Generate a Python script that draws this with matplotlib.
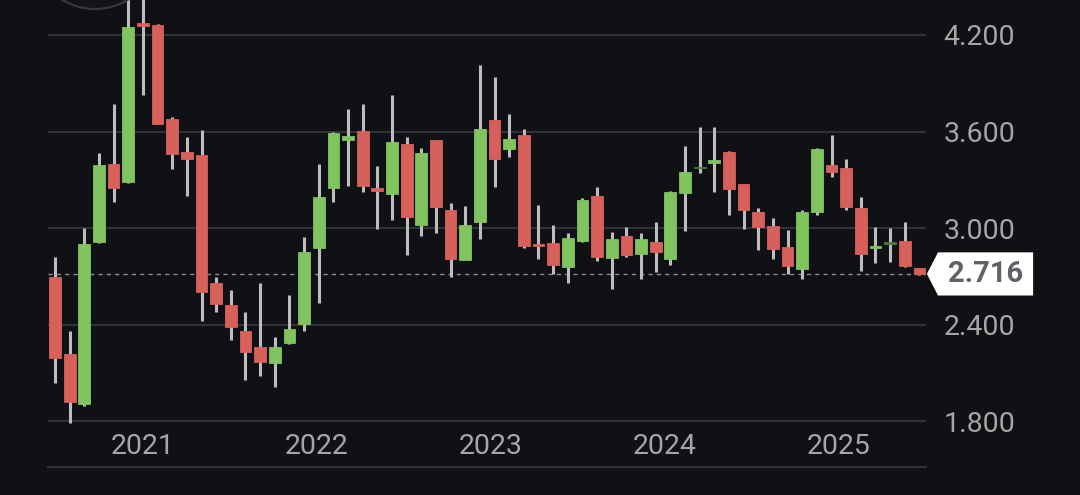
import numpy as np
import matplotlib
matplotlib.use('Agg')
import matplotlib.pyplot as plt
from matplotlib.patches import Polygon, Circle
from matplotlib.transforms import blended_transform_factory

# 月K資料 (2020/07 ~ 2025/06)
opens = [2.695, 2.22, 1.906, 2.914, 3.40, 3.289, 4.272, 4.26, 3.678, 3.473, 3.455, 2.662,
         2.523, 2.36, 2.264, 2.163, 2.285, 2.405, 2.875, 3.252, 3.545, 3.604, 3.252, 3.21,
         3.521, 3.02, 3.548, 3.111, 2.804, 3.04, 3.67, 3.49, 3.579, 2.90, 2.91, 2.761,
         2.92, 3.198, 2.817, 2.954, 2.84, 2.912, 2.807, 3.221, 3.372, 3.405, 3.473, 3.275,
         3.099, 3.014, 2.883, 2.745, 3.101, 3.393, 3.372, 3.127, 2.876, 2.904, 2.92, 2.751]
closes = [2.196, 1.92, 2.90, 3.395, 3.25, 4.248, 4.258, 3.65, 3.461, 3.428, 2.606, 2.527,
          2.388, 2.23, 2.167, 2.264, 2.372, 2.85, 3.194, 3.593, 3.57, 3.262, 3.232, 3.534,
          3.071, 3.465, 3.132, 2.811, 3.02, 3.614, 3.432, 3.554, 2.891, 2.89, 2.769, 2.937,
          3.175, 2.823, 2.933, 2.832, 2.933, 2.852, 3.227, 3.347, 3.372, 3.422, 3.245, 3.111,
          3.005, 2.873, 2.763, 3.099, 3.49, 3.351, 3.13, 2.842, 2.89, 2.904, 2.763, 2.716]
highs = [2.82, 2.36, 3.0, 3.465, 3.77, 4.5, 4.55, 4.265, 3.69, 3.565, 3.608, 2.70,
         2.616, 2.48, 2.658, 2.322, 2.587, 2.945, 3.397, 3.60, 3.74, 3.77, 3.386, 3.827,
         3.566, 3.496, 3.55, 3.155, 3.138, 4.014, 3.937, 3.709, 3.618, 3.142, 3.02, 2.972,
         3.19, 3.254, 2.978, 3.007, 2.972, 3.04, 3.23, 3.509, 3.627, 3.63, 3.48, 3.275,
         3.127, 3.061, 2.987, 3.111, 3.496, 3.577, 3.428, 3.192, 3.009, 3.0, 3.039, 2.751]
lows = [2.04, 1.79, 1.895, 2.905, 3.16, 3.28, 3.83, 3.645, 3.37, 3.20, 2.424, 2.48,
        2.306, 2.06, 2.084, 2.016, 2.279, 2.36, 2.533, 3.163, 3.26, 3.227, 2.997, 3.053,
        2.832, 2.952, 2.972, 2.70, 2.80, 2.933, 3.258, 3.44, 2.88, 2.811, 2.716, 2.658,
        2.915, 2.798, 2.624, 2.823, 2.686, 2.73, 2.773, 2.98, 3.341, 3.223, 3.08, 2.997,
        2.863, 2.809, 2.716, 2.686, 3.08, 3.32, 3.113, 2.736, 2.782, 2.792, 2.757, 2.709]
years = ['2021', '2022', '2023', '2024', '2025']
year_start = [6, 18, 30, 42, 54]   # 每年一月的K棒位置
y_ticks = [1.8, 2.4, 3.0, 3.6, 4.2]
last_price = 2.716

bg = '#0f1115'
up_c, down_c, flat_c = '#80c35f', '#d8605a', '#4d7a3e'
wick_c = '#bdbdbd'
grid_c = '#2f3237'
text_c = '#a6a6a6'

plt.rcParams['font.family'] = ['Roboto', 'DejaVu Sans']

fig = plt.figure(figsize=(10.8, 4.95), dpi=100, facecolor=bg)
ax = fig.add_axes([48/1080, 28.3/495, 878/1080, 466.7/495])
ax.set_facecolor(bg)

o = np.array(opens)
c = np.array(closes)
x = np.arange(len(o))

# 格線
for v in y_ticks:
    ax.axhline(v, color=grid_c, lw=1.5, zorder=0)
ax.axhline(last_price, color='#8c8c8c', lw=1, ls=(0, (3, 3)), zorder=1)

# 影線
ax.vlines(x, lows, highs, color=wick_c, lw=2.2, zorder=2)

# 實體
colors = np.where(c > o, up_c, np.where(c < o, down_c, flat_c))
height = np.maximum(np.abs(c - o), 0.008)
bottom = np.minimum(o, c)
ax.bar(x, height, bottom=bottom, width=0.8, color=colors, edgecolor=colors,
       lw=0.6, zorder=3)

ax.set_xlim(-0.48, 59.45)
ax.set_ylim(1.519, 4.417)
for s in ax.spines.values():
    s.set_visible(False)
ax.spines['bottom'].set_visible(True)
ax.spines['bottom'].set_color(grid_c)
ax.spines['bottom'].set_linewidth(1.5)

ax.yaxis.tick_right()
ax.set_yticks(y_ticks)
ax.set_yticklabels(['%.3f' % v for v in y_ticks])
ax.tick_params(axis='y', length=0, pad=12.5, labelsize=20.5, labelcolor=text_c)
ax.set_xticks([])

# 年份標籤 (放在 1.800 格線與底線之間)
tr = blended_transform_factory(ax.transData, ax.transAxes)
for k, (yr, i) in enumerate(zip(years, year_start)):
    ax.text(i - 0.12*k, 0.044, yr, transform=tr, ha='center', va='center',
            fontsize=20.5, color=text_c)

# 最新價格標籤
tr2 = blended_transform_factory(ax.transAxes, ax.transData)
h = 0.134
tag = Polygon([(1.001, last_price), (1.0137, last_price + h), (1.122, last_price + h),
               (1.122, last_price - h), (1.0137, last_price - h)],
              closed=True, transform=tr2, facecolor='white', edgecolor='none',
              clip_on=False, zorder=5)
ax.add_patch(tag)
ax.text(1.0675, last_price, '%.3f' % last_price, transform=tr2, ha='center',
        va='center', fontsize=21, fontweight='bold', color='#5f6368', zorder=6)

# 左上角的圓形按鈕 (只露出一小段)
fig.patches.append(Circle((95, 549), 63, transform=None, facecolor='#12141a',
                          edgecolor='#36393e', lw=1.5, zorder=0))

fig.savefig('out.png', dpi=100, facecolor=bg)
